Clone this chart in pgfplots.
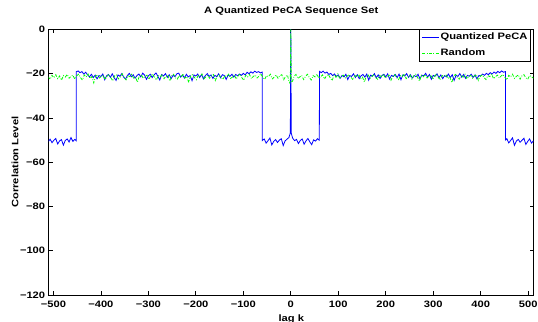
\documentclass[border=0pt]{standalone}
\usepackage{fontspec}
\setmainfont{Liberation Sans}[FakeStretch=1.2]
\usepackage{pgfplots}
\pgfplotsset{compat=1.18}
\begin{document}
\begin{tikzpicture}
\useasboundingbox (-48.7pt,-26.7pt) rectangle (489.7pt,295.3pt);
\begin{axis}[
  at={(0pt,0pt)}, anchor=south west,
  scale only axis, width=485.6pt, height=266pt,
  xmin=-510, xmax=512, ymin=-120, ymax=0,
  xtick={-500,-400,...,500}, ytick={-120,-100,...,0},
  xticklabels={−500,−400,−300,−200,−100,0,100,200,300,400,500},
  yticklabels={−120,−100,−80,−60,−40,−20,0},
  tick align=inside, major tick length=4pt,
  axis line style={line width=1pt},
  every tick/.style={black, line width=0.7pt},
  tick label style={font=\bfseries\fontsize{9.3}{11}\selectfont},
  xticklabel style={yshift=-2.5pt},
  title style={font=\bfseries\fontsize{9.3}{11}\selectfont, yshift=4pt},
  title={A Quantized PeCA Sequence Set},
  xlabel={lag k}, ylabel={Correlation Level},
  xlabel style={font=\bfseries\fontsize{9.3}{11}\selectfont, at={(axis description cs:0.5,0)}, anchor=north, yshift=-16pt},
  ylabel style={font=\bfseries\fontsize{9.3}{11}\selectfont, at={(axis description cs:-0.0694,0.5)}, anchor=center},
  legend style={font=\bfseries\fontsize{9.3}{11}\selectfont,
    inner xsep=2pt, inner ysep=2.5pt, row sep=5pt,
    nodes={inner sep=1pt, text height=7pt, text depth=2pt},
    at={(0.9932,1)}, anchor=north east},
  legend cell align=left,
]
\addplot[forget plot, draw=blue, line width=0.8pt] coordinates {
(-511,-50.8) (-507,-49.6) (-503,-51.2) (-499,-50.1) (-495,-49.3) (-491,-51.8) (-487,-50.4) (-483,-49.8) (-479,-52.3) (-475,-50.2) (-471,-49.5) (-467,-50.9) (-463,-48.9) (-459,-50.6) (-455,-49.7) (-452,-50.3) (-452,-19.2)
(-448,-18.8) (-444,-19.6) (-440,-19.1) (-436,-20.2) (-432,-19.4) (-428,-20.6) (-424,-21.5) (-420,-20.3) (-416,-21.8) (-412,-20.7) (-408,-22.4) (-404,-20.9) (-400,-21.3) (-396,-20.2) (-392,-22.8) (-388,-21.0) (-384,-20.4) (-380,-21.7) (-376,-20.1) (-372,-21.9) (-368,-23.1) (-364,-20.6) (-360,-21.2) (-356,-20.0) (-352,-21.6) (-348,-22.5) (-344,-20.8) (-340,-19.9) (-336,-21.4) (-332,-20.5) (-328,-22.1) (-324,-20.9) (-320,-20.2) (-316,-21.5) (-312,-19.8) (-308,-20.7) (-304,-22.6) (-300,-21.0) (-296,-20.3) (-292,-21.8) (-288,-20.6) (-284,-19.7) (-280,-21.2) (-276,-22.9) (-272,-20.4) (-268,-21.1) (-264,-20.0) (-260,-21.7) (-256,-20.5) (-252,-22.3) (-248,-20.8) (-244,-21.4) (-240,-20.1) (-236,-19.8) (-232,-21.6) (-228,-20.7) (-224,-22.0) (-220,-20.3) (-216,-21.5) (-212,-20.9) (-208,-23.2) (-204,-20.6) (-200,-21.1) (-196,-20.2) (-192,-21.8) (-188,-20.4) (-184,-22.4) (-180,-20.9) (-176,-20.0) (-172,-21.3) (-168,-20.6) (-164,-22.2) (-160,-20.8) (-156,-21.4) (-152,-20.1) (-148,-21.9) (-144,-20.5) (-140,-20.9) (-136,-22.6) (-132,-20.7) (-128,-21.2) (-124,-20.3) (-120,-21.6) (-116,-20.4) (-112,-21.0) (-108,-20.2) (-104,-20.8) (-100,-19.9) (-96,-20.6) (-92,-19.4) (-88,-20.1) (-84,-19.2) (-80,-19.8) (-76,-18.9) (-72,-19.5) (-68,-19.1) (-64,-19.7) (-60,-19.3) (-60,-50.2)
(-56,-49.5) (-52,-51.4) (-48,-50.3) (-44,-49.1) (-40,-52.2) (-36,-50.6) (-32,-49.8) (-28,-51.1) (-24,-50.0) (-20,-49.4) (-16,-52.5) (-12,-50.4) (-8,-49.6) (-4,-48.9) (-2,-47.5) (-1,-46.8) (0,0) (1,-46.9) (2,-47.8) (4,-49.2) (8,-50.3) (12,-49.7) (16,-51.6) (20,-50.2) (24,-49.5) (28,-51.9) (32,-50.4) (36,-49.3) (40,-50.8) (44,-52.1) (48,-49.9) (52,-50.5) (56,-49.4) (60,-50.1) (60.5,-19.0)
(64,-19.6) (68,-18.9) (72,-19.8) (76,-19.3) (80,-20.4) (84,-19.9) (88,-20.9) (92,-20.2) (96,-21.4) (100,-20.6) (104,-22.1) (108,-20.8) (112,-21.5) (116,-20.3) (120,-22.7) (124,-20.9) (128,-21.3) (132,-20.1) (136,-21.8) (140,-20.5) (144,-22.3) (148,-21.0) (152,-20.4) (156,-21.6) (160,-20.2) (164,-23.0) (168,-20.7) (172,-21.2) (176,-20.0) (180,-21.9) (184,-20.6) (188,-22.2) (192,-20.9) (196,-20.3) (200,-21.5) (204,-20.1) (208,-22.5) (212,-20.8) (216,-21.3) (220,-20.4) (224,-21.8) (228,-20.2) (232,-22.8) (236,-20.6) (240,-21.1) (244,-20.0) (248,-21.7) (252,-20.5) (256,-22.0) (260,-20.9) (264,-21.4) (268,-20.3) (272,-22.4) (276,-20.7) (280,-21.0) (284,-19.9) (288,-21.6) (292,-20.4) (296,-22.6) (300,-20.8) (304,-21.2) (308,-20.1) (312,-21.9) (316,-20.6) (320,-22.3) (324,-20.9) (328,-21.5) (332,-20.2) (336,-21.8) (340,-20.5) (344,-23.1) (348,-20.7) (352,-21.3) (356,-20.0) (360,-21.6) (364,-20.4) (368,-22.1) (372,-20.8) (376,-21.2) (380,-20.3) (384,-21.7) (388,-20.6) (392,-22.4) (396,-20.9) (400,-21.0) (404,-20.2) (408,-20.8) (412,-19.9) (416,-20.5) (420,-19.6) (424,-20.2) (428,-19.3) (432,-19.9) (436,-19.0) (440,-19.6) (444,-18.8) (448,-19.4) (452,-19.1) (452,-50.0)
(455,-49.4) (459,-51.3) (463,-50.2) (467,-49.0) (471,-52.4) (475,-50.5) (479,-49.7) (483,-51.0) (487,-50.1) (491,-49.2) (495,-52.0) (499,-50.6) (503,-49.5) (507,-51.4) (511,-50.3)
};
\addplot[forget plot, draw=green, line width=0.8pt, dash pattern=on 3pt off 1.5pt on 0.8pt off 1.5pt] coordinates {
(-511,-21.4) (-507,-22.6) (-503,-20.8) (-499,-21.9) (-495,-20.5) (-491,-22.3) (-487,-21.1) (-483,-23.0) (-479,-20.9) (-475,-21.6) (-471,-20.4) (-467,-22.1) (-463,-21.3) (-459,-20.7) (-455,-22.5) (-451,-21.0) (-447,-20.3) (-443,-21.8) (-439,-22.9) (-435,-20.6) (-431,-21.5) (-427,-20.2) (-423,-22.2) (-419,-21.4) (-415,-24.2) (-411,-21.1) (-407,-20.5) (-403,-22.0) (-399,-21.3) (-395,-20.8) (-391,-22.7) (-387,-21.2) (-383,-20.4) (-379,-21.9) (-375,-23.3) (-371,-21.0) (-367,-20.6) (-363,-22.4) (-359,-21.5) (-355,-20.1) (-351,-21.7) (-347,-22.8) (-343,-20.9) (-339,-21.4) (-335,-20.3) (-331,-22.2) (-327,-21.6) (-323,-23.9) (-319,-21.0) (-315,-20.5) (-311,-22.1) (-307,-21.3) (-303,-20.7) (-299,-22.6) (-295,-21.1) (-291,-20.2) (-287,-21.8) (-283,-22.9) (-279,-20.8) (-275,-21.5) (-271,-20.4) (-267,-22.3) (-263,-21.2) (-259,-20.6) (-255,-23.4) (-251,-21.0) (-247,-20.3) (-243,-21.9) (-239,-22.5) (-235,-20.9) (-231,-21.6) (-227,-20.1) (-223,-22.0) (-219,-21.4) (-215,-24.0) (-211,-21.1) (-207,-20.5) (-203,-21.7) (-199,-22.8) (-195,-20.7) (-191,-21.3) (-187,-20.2) (-183,-22.4) (-179,-21.5) (-175,-20.8) (-171,-22.1) (-167,-21.0) (-163,-20.4) (-159,-23.1) (-155,-21.2) (-151,-20.6) (-147,-21.8) (-143,-22.7) (-139,-20.9) (-135,-21.4) (-131,-20.3) (-127,-22.2) (-123,-21.6) (-119,-20.5) (-115,-22.5) (-111,-21.1) (-107,-20.2) (-103,-21.9) (-99,-23.0) (-95,-20.8) (-91,-21.5) (-87,-20.4) (-83,-22.3) (-79,-21.3) (-75,-20.7) (-71,-22.0) (-67,-21.2) (-63,-20.1) (-59,-21.7) (-55,-22.6) (-51,-20.9) (-47,-21.4) (-43,-20.3) (-39,-22.4) (-35,-21.6) (-31,-20.6) (-27,-22.1) (-23,-21.0) (-19,-20.5) (-15,-22.8) (-11,-21.3) (-7,-20.7) (-4,-23.5) (-2,-24.3) (-1,-22.0) (0,0) (1,-22.4) (2,-24.0) (4,-23.2) (7,-21.1) (11,-20.4) (15,-22.2) (19,-21.5) (23,-20.8) (27,-22.7) (31,-21.2) (35,-20.3) (39,-21.8) (43,-22.9) (47,-20.9) (51,-21.5) (55,-20.2) (59,-22.1) (63,-21.4) (67,-20.6) (71,-22.5) (75,-21.0) (79,-20.4) (83,-21.9) (87,-23.2) (91,-20.8) (95,-21.6) (99,-20.1) (103,-22.3) (107,-21.3) (111,-20.7) (115,-22.0) (119,-21.1) (123,-20.5) (127,-21.7) (131,-22.8) (135,-20.9) (139,-21.4) (143,-20.3) (147,-22.4) (151,-21.6) (155,-23.8) (159,-21.0) (163,-20.6) (167,-22.2) (171,-21.2) (175,-20.4) (179,-21.8) (183,-22.6) (187,-20.8) (191,-21.5) (195,-20.2) (199,-22.1) (203,-21.3) (207,-20.7) (211,-23.0) (215,-21.1) (219,-20.5) (223,-21.9) (227,-22.7) (231,-20.9) (235,-21.4) (239,-20.1) (243,-22.3) (247,-21.6) (251,-20.6) (255,-22.5) (259,-21.0) (263,-20.3) (267,-21.7) (271,-23.4) (275,-20.8) (279,-21.5) (283,-20.4) (287,-22.0) (291,-21.2) (295,-20.6) (299,-22.6) (303,-21.1) (307,-20.2) (311,-21.8) (315,-22.9) (319,-20.9) (323,-21.3) (327,-20.5) (331,-22.2) (335,-21.5) (339,-24.1) (343,-21.0) (347,-20.4) (351,-21.9) (355,-22.5) (359,-20.7) (363,-21.6) (367,-20.3) (371,-22.4) (375,-21.2) (379,-20.8) (383,-22.1) (387,-21.0) (391,-20.5) (395,-23.1) (399,-21.3) (403,-20.6) (407,-21.8) (411,-22.7) (415,-20.9) (419,-21.4) (423,-20.2) (427,-22.3) (431,-21.5) (435,-20.7) (439,-22.0) (443,-21.1) (447,-20.4) (451,-21.7) (455,-22.8) (459,-20.8) (463,-21.5) (467,-20.3) (471,-22.2) (475,-21.3) (479,-20.6) (483,-22.5) (487,-21.0) (491,-20.5) (495,-21.9) (499,-22.6) (503,-20.9) (507,-21.4) (511,-22.1)
};
\addlegendimage{draw=blue, line width=1pt}
\addlegendentry{Quantized PeCA}
\addlegendimage{draw=green, line width=1pt, dash pattern=on 3pt off 1.5pt on 0.8pt off 1.5pt}
\addlegendentry{Random}
\end{axis}
\end{tikzpicture}
\end{document}
